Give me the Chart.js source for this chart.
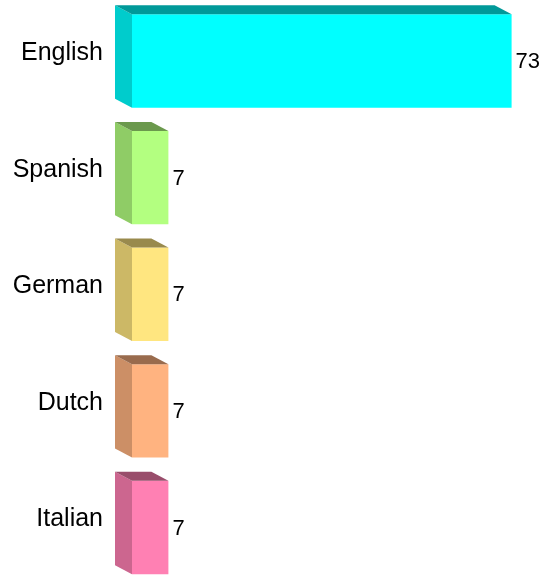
<!DOCTYPE html>
<html lang="en">

<head>
    <meta charset="UTF-8">
    <title>Languages</title>
    <script src="https://cdn.jsdelivr.net/npm/chart.js"></script>
    <style>
        html, body { margin: 0; padding: 0; background: #fff; }
        #wrap { width: 557px; height: 576px; }
    </style>
</head>

<body>
    <div id="wrap"><canvas id="langChart"></canvas></div>

    <script>
        // data
        const languages = ["English", "Spanish", "German", "Dutch", "Italian"];
        const shares = [73, 7, 7, 7, 7];

        const frontColors = ["#00FFFF", "#B3FF80", "#FFE680", "#FFB380", "#FF80B3"];
        const sideColors = ["#00CCCC", "#8FCC66", "#CCB866", "#CC8F66", "#CC668F"];
        const topColors = ["#009999", "#6B994D", "#998A4D", "#996B4D", "#994D6B"];

        const depthX = 17, depthY = 9;

        // side and top faces plus the value labels
        const boxPlugin = {
            id: "box3d",
            afterDatasetsDraw(chart) {
                const ctx = chart.ctx;
                const meta = chart.getDatasetMeta(0);
                ctx.save();
                meta.data.forEach((bar, i) => {
                    const p = bar.getProps(["x", "y", "base", "height"], true);
                    const top = p.y - p.height / 2;
                    const bottom = p.y + p.height / 2;
                    const left = p.base;
                    const right = p.x;

                    ctx.fillStyle = sideColors[i];
                    ctx.beginPath();
                    ctx.moveTo(left - depthX, top - depthY);
                    ctx.lineTo(left, top);
                    ctx.lineTo(left, bottom);
                    ctx.lineTo(left - depthX, bottom - depthY);
                    ctx.closePath();
                    ctx.fill();

                    ctx.fillStyle = topColors[i];
                    ctx.beginPath();
                    ctx.moveTo(left - depthX, top - depthY);
                    ctx.lineTo(right - depthX, top - depthY);
                    ctx.lineTo(right, top);
                    ctx.lineTo(left, top);
                    ctx.closePath();
                    ctx.fill();

                    ctx.fillStyle = "#000";
                    ctx.font = "22px 'Liberation Sans', Arial, sans-serif";
                    ctx.textAlign = "left";
                    ctx.textBaseline = "middle";
                    ctx.fillText(String(shares[i]), right + 4, p.y + 1);
                });
                ctx.restore();
            }
        };

        new Chart(document.getElementById("langChart"), {
            type: "bar",
            data: {
                labels: languages,
                datasets: [{
                    data: shares,
                    backgroundColor: frontColors,
                    borderWidth: 0,
                    barPercentage: 0.8,
                    categoryPercentage: 1,
                    clip: false
                }]
            },
            options: {
                indexAxis: "y",
                responsive: true,
                maintainAspectRatio: false,
                animation: false,
                layout: { padding: { top: 61, bottom: 48.5, left: 0, right: 9 } },
                plugins: {
                    legend: { display: false },
                    tooltip: { enabled: false }
                },
                scales: {
                    x: { display: false, min: 0, max: 80 },
                    y: {
                        offset: false,
                        grid: { display: false, drawTicks: false },
                        border: { display: false },
                        ticks: {
                            color: "#000",
                            padding: 29,
                            labelOffset: -8,
                            font: { family: "'Liberation Sans', Arial, sans-serif", size: 25 }
                        },
                        afterFit(scale) { scale.width = 132; }
                    }
                }
            },
            plugins: [boxPlugin]
        });
    </script>

</body>

</html>
